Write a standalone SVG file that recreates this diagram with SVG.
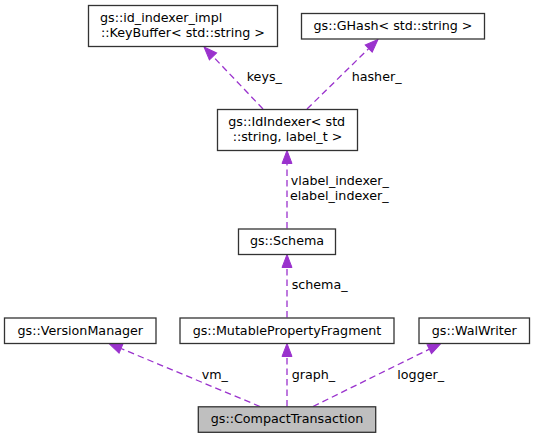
<svg xmlns="http://www.w3.org/2000/svg" width="534" height="439" viewBox="0 0 534 439">
<style>
  .box { fill: #ffffff; stroke: #333333; stroke-width: 1.3; }
  .cur { fill: #bfbfbf; stroke: #333333; stroke-width: 1.3; }
  text { font-family: "DejaVu Sans", sans-serif; font-size: 12.7px; fill: #000000; }
  .m { text-anchor: middle; }
  .s { text-anchor: start; }
  .edge { fill: none; stroke: #9a32cd; stroke-width: 1.3; stroke-dasharray: 6.5,4; marker-end: url(#arr); }
</style>
<defs>
  <marker id="arr" markerUnits="userSpaceOnUse" markerWidth="14" markerHeight="12" refX="0" refY="5" orient="auto" overflow="visible">
    <path d="M0,0 L13,5 L0,10 Z" fill="#9a32cd" stroke="#9a32cd" stroke-width="1"/>
  </marker>
</defs>
<rect width="534" height="439" fill="#ffffff"/>

<g id="connectors">
  <line class="edge" x1="263" y1="109" x2="213" y2="56.4"/>
  <text class="s" x="246.7" y="80.7">keys_</text>
  <line class="edge" x1="307" y1="109" x2="368.7" y2="48.6"/>
  <text class="s" x="351.7" y="80.7">hasher_</text>
  <line class="edge" x1="287" y1="228.5" x2="287" y2="163.5"/>
  <text class="s" x="290.7" y="185">vlabel_indexer_</text>
  <text class="s" x="290" y="200">elabel_indexer_</text>
  <line class="edge" x1="287" y1="317.5" x2="287" y2="267.5"/>
  <text class="s" x="291.7" y="289.3">schema_</text>
  <line class="edge" x1="260" y1="406.5" x2="121" y2="348.5"/>
  <text class="s" x="201.7" y="379">vm_</text>
  <line class="edge" x1="287" y1="406.5" x2="287" y2="356.5"/>
  <text class="s" x="291.7" y="379">graph_</text>
  <line class="edge" x1="313" y1="406.5" x2="429.3" y2="349.2"/>
  <text class="s" x="397.3" y="379">logger_</text>
</g>

<g id="node-keybuffer">
  <rect class="box" x="88.5" y="5.5" width="189" height="41"/>
  <text class="s" x="100" y="21.7">gs::id_indexer_impl</text>
  <text class="m" x="183" y="36.7">::KeyBuffer&lt; std::string &gt;</text>
</g>
<g id="node-ghash">
  <rect class="box" x="301.5" y="13.5" width="183" height="25.5"/>
  <text class="m" x="393" y="29.5">gs::GHash&lt; std::string &gt;</text>
</g>
<g id="node-idindexer">
  <rect class="box" x="217.5" y="109.5" width="140" height="41"/>
  <text class="s" x="228.3" y="126">gs::IdIndexer&lt; std</text>
  <text class="m" x="287.5" y="141">::string, label_t &gt;</text>
</g>
<g id="node-schema">
  <rect class="box" x="238.5" y="229" width="97" height="25.5"/>
  <text class="m" x="287" y="245">gs::Schema</text>
</g>
<g id="node-versionmanager">
  <rect class="box" x="4.5" y="318" width="151.5" height="25.5"/>
  <text class="m" x="80.3" y="334.5">gs::VersionManager</text>
</g>
<g id="node-mutablepropertyfragment">
  <rect class="box" x="180" y="318" width="214" height="25.5"/>
  <text class="m" x="287" y="334.5">gs::MutablePropertyFragment</text>
</g>
<g id="node-walwriter">
  <rect class="box" x="419" y="318" width="110.5" height="25.5"/>
  <text class="m" x="474.3" y="334.5">gs::WalWriter</text>
</g>
<g id="node-compacttransaction">
  <rect class="cur" x="198.3" y="406.8" width="177.4" height="25.5"/>
  <text class="m" x="287" y="423.3">gs::CompactTransaction</text>
</g>
</svg>
